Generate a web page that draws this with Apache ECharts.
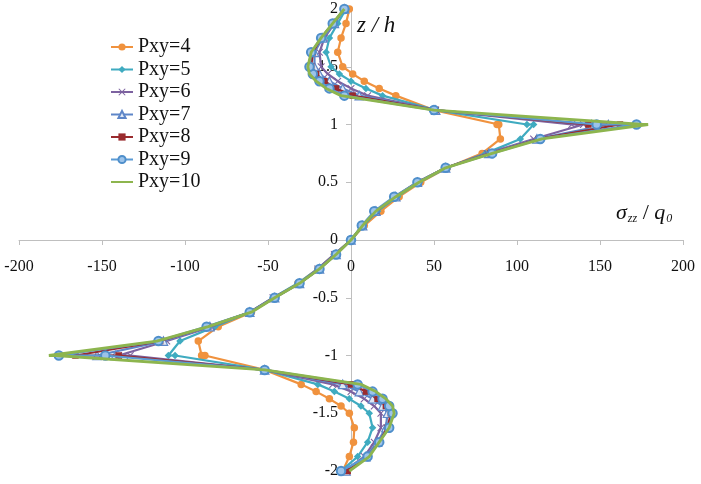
<!DOCTYPE html>
<html>
<head>
<meta charset="utf-8">
<script src="https://cdn.jsdelivr.net/npm/echarts@6/dist/echarts.min.js"></script>
<style>
html,body{margin:0;padding:0;background:#fff;}
#chart{width:701px;height:484px;}
</style>
</head>
<body>
<div id="chart"></div>
<script>
// z / h positions (interface z = ±1 appears twice: one value per layer)
const zValues = [-2, -1.875, -1.75, -1.625, -1.5, -1.4375, -1.375, -1.3125, -1.25, -1.125, -1, -1,
  -0.875, -0.75, -0.625, -0.5, -0.375, -0.25, -0.125, 0,
  0.125, 0.25, 0.375, 0.5, 0.625, 0.75, 0.875, 1, 1,
  1.125, 1.25, 1.3125, 1.375, 1.4375, 1.5, 1.625, 1.75, 1.875, 2];

// sigma_zz / q0 values for each series
const pxy4 = [-5, -1, 1.5, 2, -1, -6, -13, -21, -30, -52, -88, -90,
  -92, -80, -60, -46, -32, -20, -10, 0,
  8, 18, 29, 42, 58, 79, 90, 89, 88,
  50, 27, 17, 8, 1, -5, -8, -6, -3, -1];
const pxy5 = [-6, 4, 10, 13, 11, 6, -1, -10, -20, -52, -106, -110,
  -103, -82, -61, -47, -32, -20, -10, 0,
  7.5, 16, 28, 41, 58, 81, 102, 110, 106,
  51, 19, 9, 0, -7, -12, -15, -13, -8, -3];
const pxy6 = [-4, 8, 14, 18, 18, 14, 8, 0, -11, -52, -133, -140,
  -111, -84, -61, -47, -31, -20, -10, 0,
  7, 15.5, 27, 40.5, 57, 82, 110, 140, 133,
  51, 10, 0, -8, -14, -18, -19, -16, -10, -4];
const pxy7 = [-3, 9, 16, 21, 22, 19, 13, 5, -5, -52, -142, -153,
  -113, -85, -61, -46, -31, -19, -9, 0,
  7, 15, 27, 40, 57, 83, 112, 155, 145,
  51, 5, -5, -13, -19, -22, -22, -17, -10, -4];
const pxy8 = [-2, 10, 17, 22, 24, 21, 16, 9, 0, -52, -140, -166,
  -115, -86, -61, -46, -31, -19, -9, 0,
  7, 15, 26.5, 40, 57, 84, 113, 162, 143,
  51, 1, -9, -16, -21, -24, -23, -18, -11, -4];
const pxy9 = [-6, 10, 17, 23, 25, 23, 19, 13, 4, -52, -148, -176,
  -116, -87, -61, -46, -31, -19, -9, 0,
  6.5, 14, 26, 40, 57, 85, 114, 172, 148,
  50, -4, -13, -19, -23, -25, -24, -18, -11, -4];
const pxy10 = [-1, 11, 17, 23, 26, 25, 21, 15, 6, -52, -178, -182,
  -117, -86, -60, -46, -31, -19, -9, 0,
  7, 15, 27, 41, 57, 85, 115, 179, 176,
  50, -6, -15, -21, -25, -26, -24, -18, -11, -4];

const seriesNames = ['Pxy=4', 'Pxy=5', 'Pxy=6', 'Pxy=7', 'Pxy=8', 'Pxy=9', 'Pxy=10'];
const seriesValues = [pxy4, pxy5, pxy6, pxy7, pxy8, pxy9, pxy10];

const xTicks = { min: -200, max: 200, interval: 50 };
const yTicks = { min: -2, max: 2, interval: 0.5 };

const crossPath = 'path://M0,1 L1,0 L5,4 L9,0 L10,1 L6,5 L10,9 L9,10 L5,6 L1,10 L0,9 L4,5 Z';
const styles = [
  { color: '#F0923E', symbol: 'circle', size: 7.5, item: {} , width: 2.2},
  { color: '#3FABC0', symbol: 'diamond', size: 7.5, item: {}, width: 2.2 },
  { color: '#7D62A0', symbol: crossPath, size: 7.5, item: {}, width: 2.2 },
  { color: '#5E86C8', symbol: 'triangle', size: 8.5, item: { color: '#dfe8f6', borderColor: '#5E86C8', borderWidth: 1.2 }, width: 2.2 },
  { color: '#9A2B2E', symbol: 'rect', size: 6.5, item: {}, width: 2.2 },
  { color: '#5B9BD5', symbol: 'circle', size: 8.5, item: { color: '#9cc3ea', borderColor: '#4F8FCB', borderWidth: 2 }, width: 2.2 },
  { color: '#8DB54E', symbol: 'none', size: 0, item: {}, width: 2.8 }
];

const series = seriesNames.map((name, s) => {
  const st = styles[s];
  return {
    name: name,
    type: 'line',
    data: zValues.map((z, i) => [seriesValues[s][i], z]),
    symbol: st.symbol,
    symbolSize: st.size,
    showSymbol: st.symbol !== 'none',
    lineStyle: { color: st.color, width: st.width },
    itemStyle: Object.assign({ color: st.color }, st.item),
    emphasis: { disabled: true },
    animation: false,
    z: 2 + s
  };
});

const legendData = seriesNames.map((name, s) =>
  styles[s].symbol === 'none' ? { name: name, itemStyle: { opacity: 0 } } : { name: name });

const serif = '"Liberation Serif", "Times New Roman", serif';
const axisColor = '#BFBFBF';

const gridLeft = 19, gridRight = 18, gridTop = 9, gridBottom = 13;
const W = 701, H = 484;
const gridW = W - gridLeft - gridRight, gridH = H - gridTop - gridBottom;
// place axes through the origin
const xAxisOffset = -gridH * (0 - yTicks.min) / (yTicks.max - yTicks.min);
const yAxisOffset = -gridW * (0 - xTicks.min) / (xTicks.max - xTicks.min);

const chart = echarts.init(document.getElementById('chart'), null, { renderer: 'canvas' });
chart.setOption({
  backgroundColor: '#ffffff',
  animation: false,
  grid: { left: gridLeft, right: gridRight, top: gridTop, bottom: gridBottom, containLabel: false, outerBoundsMode: 'none' },
  xAxis: {
    type: 'value', position: 'bottom', offset: xAxisOffset,
    min: xTicks.min, max: xTicks.max, interval: xTicks.interval,
    splitLine: { show: false },
    axisLine: { onZero: false, lineStyle: { color: axisColor, width: 1 } },
    axisTick: { show: true, length: 5, lineStyle: { color: axisColor } },
    axisLabel: { margin: 19, color: '#111', fontSize: 16, fontFamily: serif }
  },
  yAxis: {
    type: 'value', position: 'left', offset: yAxisOffset,
    min: yTicks.min, max: yTicks.max, interval: yTicks.interval,
    splitLine: { show: false },
    axisLine: { onZero: false, lineStyle: { color: axisColor, width: 1 } },
    axisTick: { show: true, length: 5, lineStyle: { color: axisColor } },
    axisLabel: { margin: 13, color: '#111', fontSize: 16, fontFamily: serif }
  },
  legend: {
    orient: 'vertical',
    left: 110, top: 37,
    itemWidth: 22, itemHeight: 9, itemGap: 2.5,
    padding: 0,
    data: legendData,
    textStyle: { fontSize: 20, fontFamily: serif, color: '#111', lineHeight: 20 }
  },
  graphic: [
    {
      type: 'text', left: 357, top: 14,
      style: { text: 'z / h', font: 'italic 23px ' + serif, fill: '#111' }
    },
    {
      type: 'text', left: 616, top: 202,
      style: {
        text: '{s|σ}{b|zz}{n| / }{s|q}{b|0}',
        rich: {
          s: { font: 'italic 22px ' + serif, fill: '#111', verticalAlign: 'bottom' },
          n: { font: '22px ' + serif, fill: '#111' },
          b: { font: 'italic 12px ' + serif, fill: '#111', padding: [11, 0, 0, 1] }
        }
      }
    }
  ],
  series: series
});
</script>
</body>
</html>
